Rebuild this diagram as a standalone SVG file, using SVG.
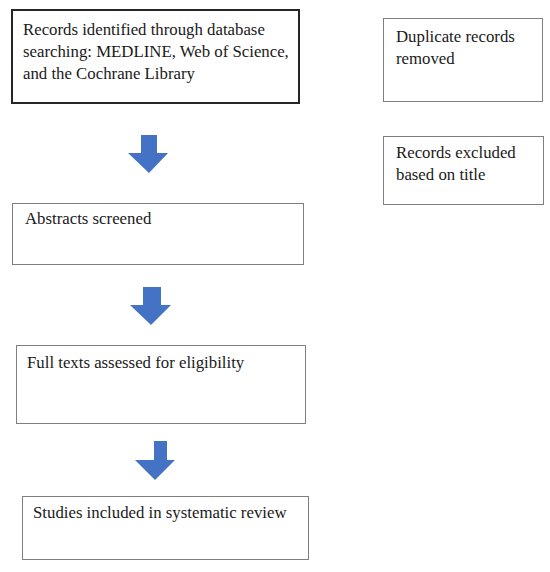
<svg xmlns="http://www.w3.org/2000/svg" width="550" height="572" viewBox="0 0 550 572">
<style>
.box{fill:#fff;stroke:#7f7f7f;stroke-width:1}
.main{fill:#fff;stroke:#262626;stroke-width:2}
.t{font-family:"Liberation Serif","DejaVu Serif",serif;font-size:16.8px;fill:#1a1a1a}
.arr{fill:#4472c4}
</style>
<rect width="550" height="572" fill="#fff"/>
<g id="n1"><rect class="main" x="12" y="10" width="287" height="93"/>
<text class="t" x="23" y="35">Records identified through database</text>
<text class="t" x="23" y="57">searching: MEDLINE, Web of Science,</text>
<text class="t" x="23" y="79">and the Cochrane Library</text></g>
<g id="n2"><rect class="box" x="383.5" y="18.5" width="159" height="83"/>
<text class="t" x="396" y="42">Duplicate records</text>
<text class="t" x="396" y="64">removed</text></g>
<g id="n3"><rect class="box" x="383.5" y="136.5" width="160" height="68"/>
<text class="t" x="396" y="158">Records excluded</text>
<text class="t" x="396" y="180">based on title</text></g>
<g id="n4"><rect class="box" x="12.5" y="203.5" width="291" height="61"/>
<text class="t" x="25" y="224">Abstracts screened</text></g>
<g id="n5"><rect class="box" x="16.5" y="345.5" width="289" height="78"/>
<text class="t" x="27" y="368">Full texts assessed for eligibility</text></g>
<g id="n6"><rect class="box" x="22.5" y="496.5" width="286" height="63"/>
<text class="t" x="33" y="518">Studies included in systematic review</text></g>
<g id="connectors">
<path class="arr" d="M141 135H157V153H168L149 173L128 153H141Z"/>
<path class="arr" d="M143 287H161V305H171L151 325L130 305H143Z"/>
<path class="arr" d="M154 441H167V460H175L155 480L135 460H154Z"/>
</g>
</svg>
